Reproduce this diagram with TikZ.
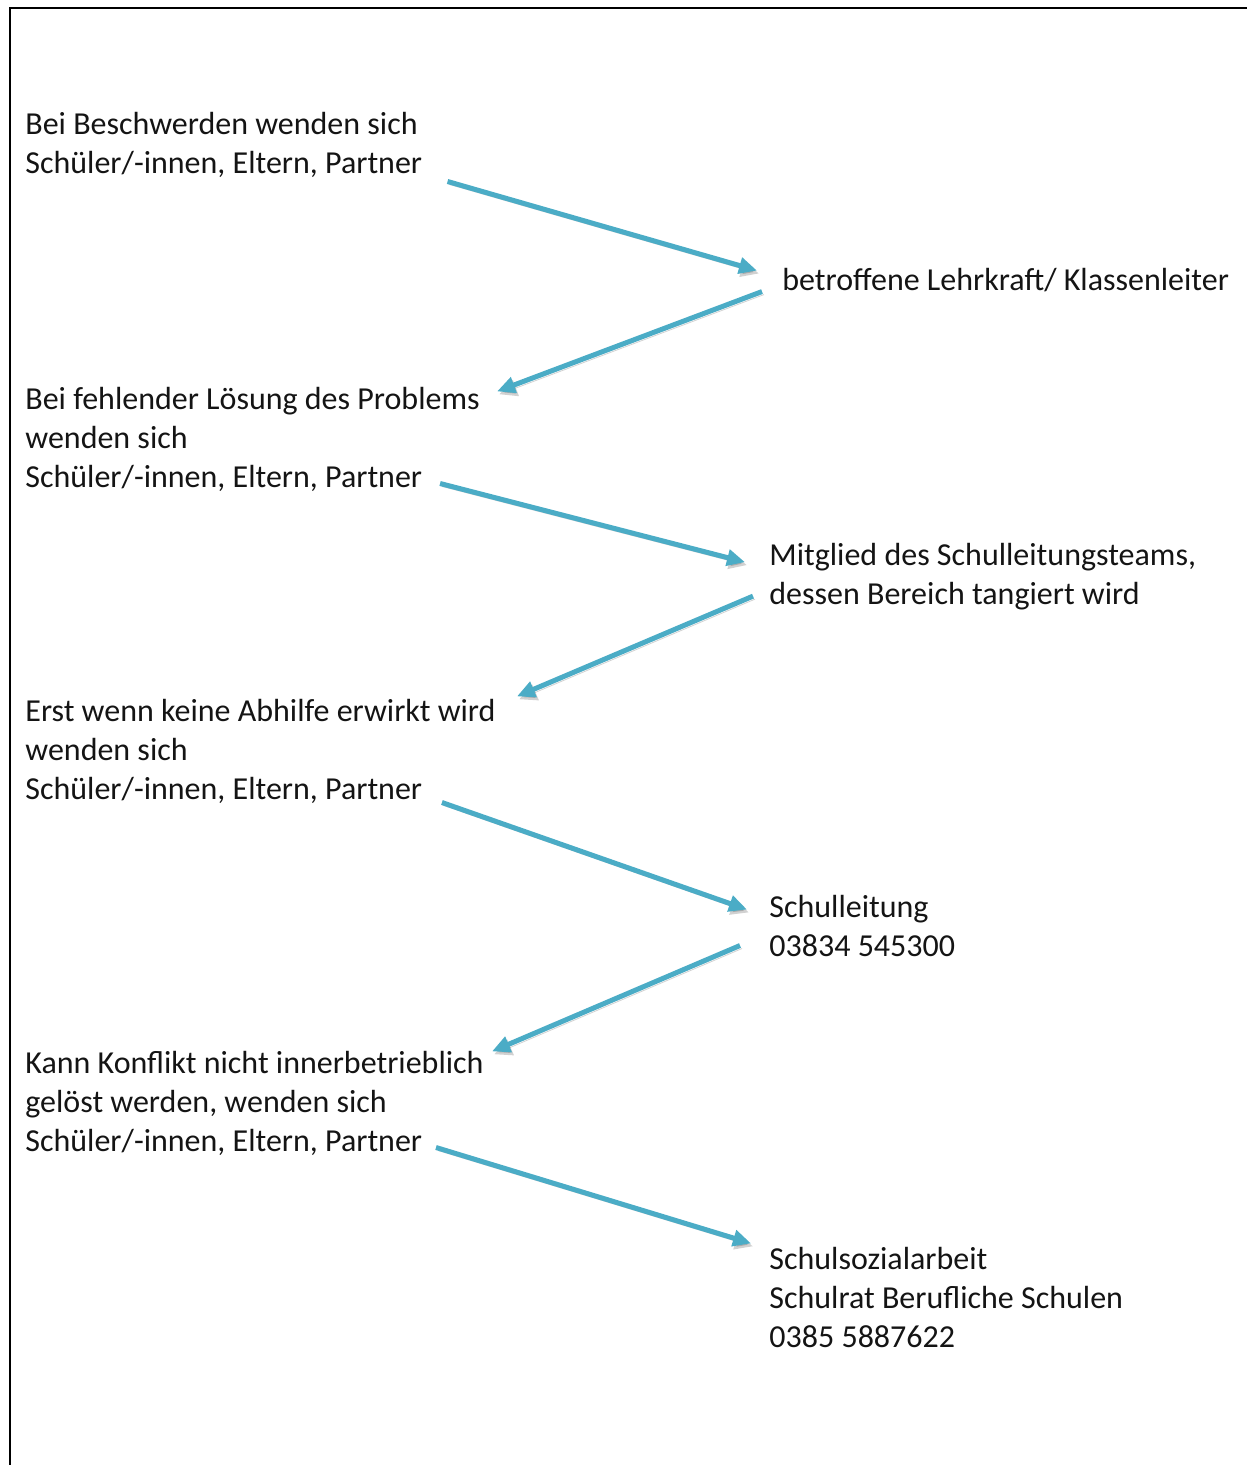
\documentclass[tikz,border=0pt]{standalone}
\usepackage{fontspec}
\setmainfont{Carlito}
\usepackage{tikz}
\usetikzlibrary{arrows.meta, positioning, calc}
\definecolor{flowblue}{RGB}{75, 172, 198}
\definecolor{framecolor}{RGB}{0, 0, 0}
\definecolor{textcolor}{RGB}{20, 20, 20}

\begin{document}
\begin{tikzpicture}[
    x=0.5pt, y=-0.5pt,
    info/.style={anchor=base west, inner sep=0pt, align=left, text=textcolor,
        font=\fontsize{16pt}{19.5pt}\selectfont},
    flow/.style={-{Triangle[length=9pt, width=8pt]}, line width=2.5pt, flowblue,
        preaction={draw=black, opacity=0.18, transform canvas={shift={(1pt,-1.5pt)}}}},
    frame/.style={line width=1pt, framecolor}
    ]
    \useasboundingbox (0,0) rectangle (1247,1465);

    % Frame
    \draw[frame] (10,1465) -- (10,8) -- (1247,8);

    % Left column (anchored at the last line)
    \node[info] (beschwerde) at (25,174) {Bei Beschwerden wenden sich\\Schüler/-innen, Eltern, Partner};
    \node[info] (loesung) at (25,487) {Bei fehlender Lösung des Problems\\wenden sich\\Schüler/-innen, Eltern, Partner};
    \node[info] (abhilfe) at (25,799) {Erst wenn keine Abhilfe erwirkt wird\\wenden sich\\Schüler/-innen, Eltern, Partner};
    \node[info] (konflikt) at (25,1151) {Kann Konflikt nicht innerbetrieblich\\gelöst werden, wenden sich\\Schüler/-innen, Eltern, Partner};

    % Right column
    \node[info] (lehrkraft) at (782,291) {betroffene Lehrkraft/ Klassenleiter};
    \node[info] (team) at (769,604) {Mitglied des Schulleitungsteams,\\dessen Bereich tangiert wird};
    \node[info] (schulleitung) at (769,956) {Schulleitung\\03834 545300};
    \node[info] (schulrat) at (769,1347) {Schulsozialarbeit\\Schulrat Berufliche Schulen\\0385 5887622};

    % Arrows
    \draw[flow] ($(beschwerde.south east)+(25,3)$) -- ($(lehrkraft.west)+(-25,-10)$);
    \draw[flow] ($(lehrkraft.west)+(-20,11)$) -- ($(loesung.north east)+(17,5)$);
    \draw[flow] ($(loesung.south east)+(-40,-8)$) -- ($(team.west)+(-24,-14)$);
    \draw[flow] ($(team.west)+(-16,20)$) -- ($(abhilfe.north east)+(21,-2)$);
    \draw[flow] ($(abhilfe.south east)+(-54,-1)$) -- ($(schulleitung.west)+(-22,-16)$);
    \draw[flow] ($(schulleitung.west)+(-29,20)$) -- ($(konflikt.north east)+(8,1)$);
    \draw[flow] ($(konflikt.south east)+(-48,-8)$) -- ($(schulrat.north west)+(-18,-3)$);
\end{tikzpicture}
\end{document}
